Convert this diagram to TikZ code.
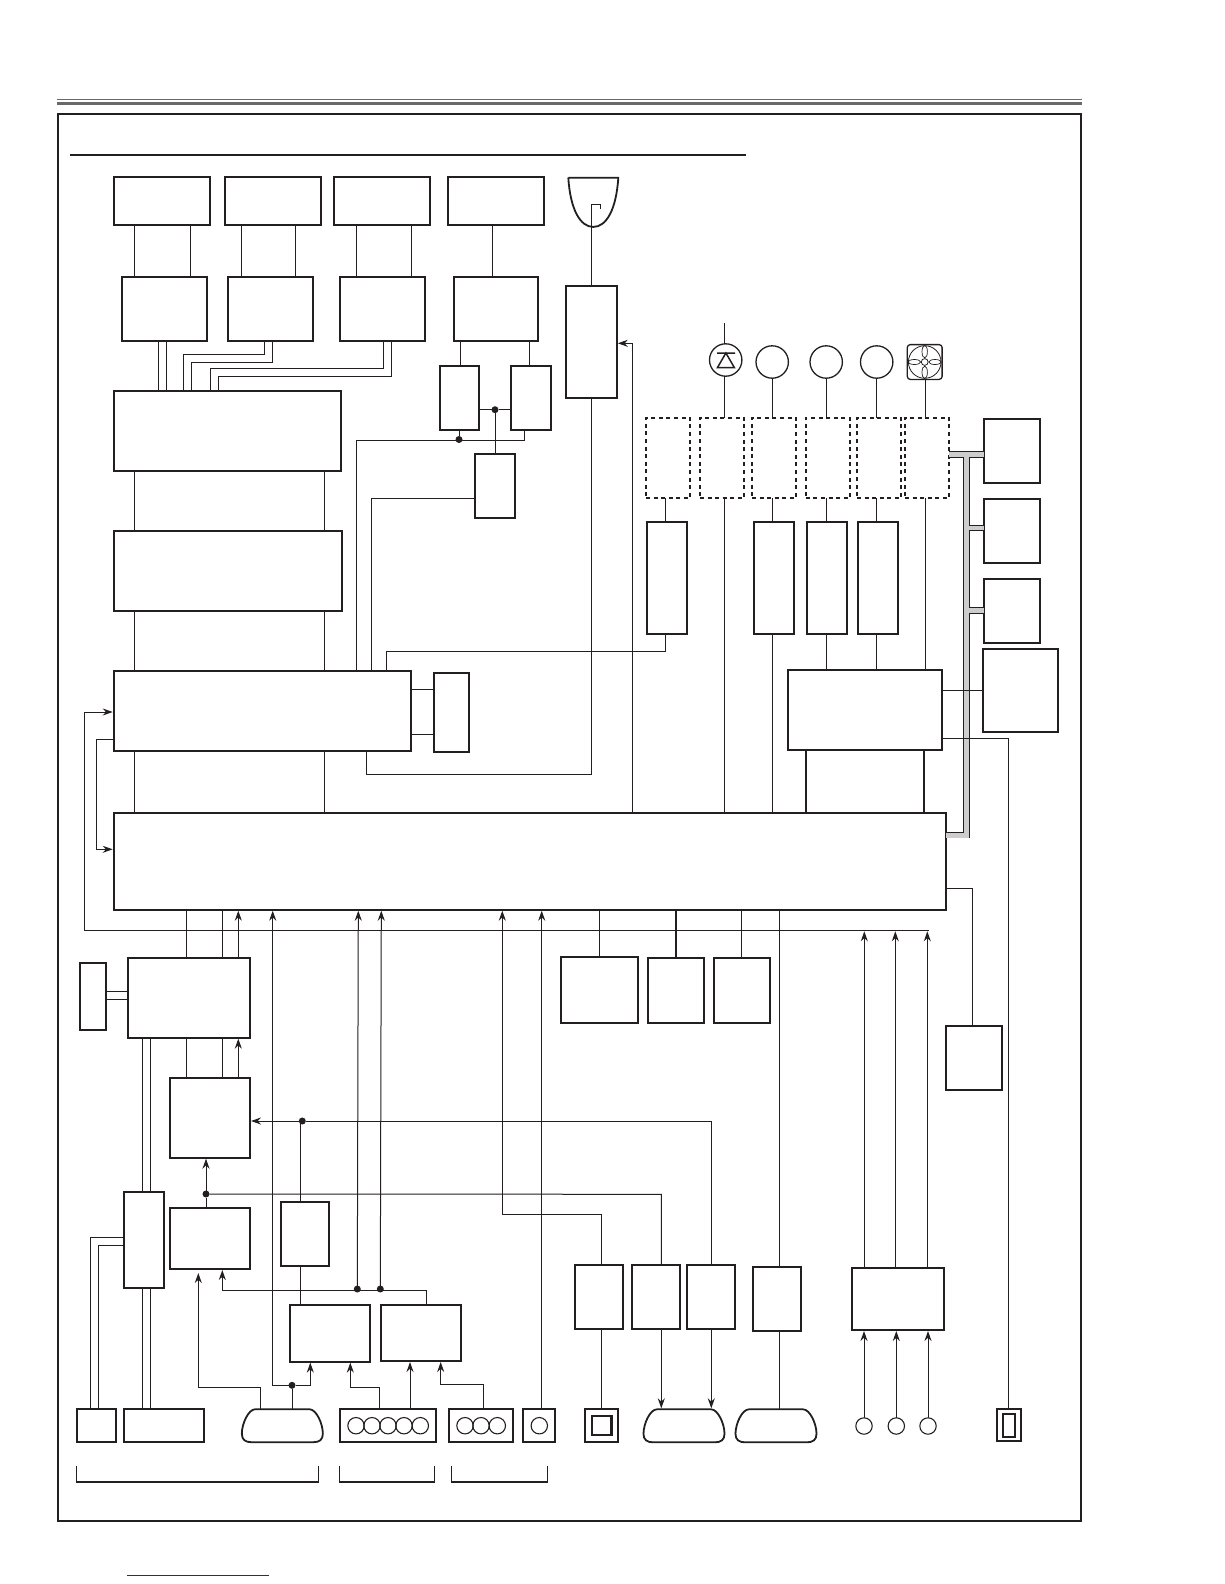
\documentclass[tikz,border=0pt]{standalone}
\usepackage{tikz}
\usetikzlibrary{shapes,arrows,arrows.meta,positioning}
\definecolor{ink}{RGB}{35, 31, 32}
\definecolor{rule}{RGB}{105, 105, 105}
\definecolor{buscol}{RGB}{205, 205, 205}
\definecolor{linkcol}{RGB}{28, 40, 150}
\tikzstyle{blk} = [rectangle, draw=ink, line width=2pt, outer sep=0pt, inner sep=0pt]
\tikzstyle{dashblk} = [blk, dash pattern=on 4pt off 3.6pt, minimum width=44.3pt, minimum height=80.2pt]
\tikzstyle{tallblk} = [blk, minimum width=40.6pt, minimum height=112.2pt]
\tikzstyle{lowblk} = [blk, minimum width=48.6pt, minimum height=64.6pt]
\tikzstyle{hole} = [rectangle, draw=none, outer sep=0pt, inner sep=0pt]
\tikzstyle{jack} = [circle, draw=ink, line width=1.1pt, outer sep=0pt, inner sep=0pt, minimum size=16.4pt]
\tikzstyle{lampc} = [circle, draw=ink, line width=1.3pt, outer sep=0pt, inner sep=0pt, minimum size=32.4pt]
\tikzstyle{dot} = [circle, fill=ink, outer sep=0pt, inner sep=0pt, minimum size=7pt]
\tikzstyle{wire} = [draw=ink, line width=1pt]
\tikzstyle{fatwire} = [draw=ink, line width=2pt]
\tikzstyle{tedge} = [draw=ink, line width=1pt, -{Stealth[length=10pt,width=7pt]}, shorten >=1pt]
\tikzstyle{bus} = [draw=ink, line width=0.8pt, double=buscol, double distance=4.8pt]
\tikzstyle{shell} = [draw=ink, line width=1.8pt, line join=round]
\newcommand{\dsub}[2]{%
  \node[hole, minimum width=81pt, minimum height=33pt] (#1) at #2 {};
  \draw[shell, shift={#2}] (-27,-16.5) -- (27,-16.5) .. controls (34,-16.5) and (40.5,-2) .. (40.5,8)
    .. controls (40.5,14) and (37,16.5) .. (31,16.5) -- (-31,16.5)
    .. controls (-37,16.5) and (-40.5,14) .. (-40.5,8) .. controls (-40.5,-2) and (-34,-16.5) .. (-27,-16.5) -- cycle;
}
\begin{document}
\begin{tikzpicture}[x=1pt, y=-1pt]
\useasboundingbox (0,0) rectangle (1224,1584);

% page furniture =============================
\draw[rule, line width=1pt] (56.5,99.7) -- (1082,99.7);
\draw[rule, line width=3pt] (56.5,103.3) -- (1082,103.3);
\node[blk, minimum width=1022.5pt, minimum height=1406.5pt] (sheet) at (569.25,817.25) {};
\draw[ink, line width=2pt] (70,155) -- (746,155);
\draw[linkcol, line width=1pt] (127,1575) -- (268.7,1575);

% optics =============================

% nodes
\node[blk, minimum width=96.3pt, minimum height=48pt] (m1) at (162.1,201) {};
\node[blk, minimum width=96.3pt, minimum height=48pt, right=14.6pt of m1] (m2) {};
\node[blk, minimum width=96.3pt, minimum height=48pt, right=12.8pt of m2] (m3) {};
\node[blk, minimum width=96.3pt, minimum height=48pt, right=17.7pt of m3] (m4) {};
\node[hole, minimum width=50pt, minimum height=49.3pt] (bowl) at (593.3,202.3) {};
\coordinate (lensline) at (591.6,227);
\draw[shell] (bowl.north west) -- (bowl.north east) .. controls +(-2,32) and +(13,0) .. (bowl.south)
  .. controls +(-13,0) and +(2,32) .. (bowl.north west);

\node[blk, minimum width=84.5pt, minimum height=64.3pt] (d1) at (164.25,308.8) {};
\node[blk, minimum width=84.5pt, minimum height=64.3pt, right=21.5pt of d1] (d2) {};
\node[blk, minimum width=85pt, minimum height=64.3pt, right=27.2pt of d2] (d3) {};
\node[blk, minimum width=84.5pt, minimum height=64.3pt, right=29pt of d3] (d4) {};
\node[blk, minimum width=50.9pt, minimum height=112.3pt] (tall) at (591.35,341.85) {};

\node[blk, minimum width=39.4pt, minimum height=64.6pt] (s1) at (459.7,398) {};
\node[blk, minimum width=40.5pt, minimum height=64.6pt, right=31.4pt of s1] (s2) {};
\node[blk, minimum width=40.6pt, minimum height=64.3pt] (s3) at (495.1,485.85) {};
\node[dot] (j1) at (495,409.7) {};
\node[dot] (j2) at (459,439.5) {};

\node[blk, minimum width=227.3pt, minimum height=79.7pt] (P1) at (227.5,430.9) {};
\node[blk, minimum width=228.2pt, minimum height=79.7pt, below=60.3pt of P1, xshift=0.4pt] (P2) {};
\node[blk, minimum width=297.6pt, minimum height=79.7pt] (P3) at (262.5,710.9) {};
\node[blk, minimum width=35pt, minimum height=79pt] (bx) at (451.5,712.5) {};
\node[blk, minimum width=832.3pt, minimum height=96.7pt] (main) at (529.85,861.35) {};

% lamp and fan =============================
\coordinate (lampin) at (724.3,323);
\node[lampc] (lamp) at (725.7,360) {};
\draw[ink, line width=1.5pt] (717,353) -- (735,353) (725.9,353) -- (717.5,367.5) -- (734.3,367.5) -- cycle;
\node[lampc] (c1) at (772.2,362) {};
\node[lampc] (c2) at (826.2,362) {};
\node[lampc] (c3) at (876.7,362) {};
\node[rectangle, rounded corners=3pt, draw=ink, line width=1.3pt, outer sep=0pt, inner sep=0pt, minimum size=34.8pt] (fan) at (924.7,362) {};
\draw[ink, line width=0.8pt] (fan) circle (16.3) (fan) circle (3.4);
\draw[ink, line width=0.7pt] (924.7,351.7) ellipse (2.7 and 6.2) (924.7,372.3) ellipse (2.7 and 6.2)
  (914.4,362) ellipse (6.2 and 2.5) (935,362) ellipse (6.2 and 2.5);

\node[dashblk] (dA) at (668.15,457.9) {};
\node[dashblk] (dB) at (722.15,457.9) {};
\node[dashblk] (dC) at (774.15,457.9) {};
\node[dashblk] (dD) at (827.85,457.9) {};
\node[dashblk] (dE) at (879.15,457.9) {};
\node[dashblk] (dF) at (927.15,457.9) {};

\node[tallblk] (tA) at (667,577.9) {};
\node[tallblk, minimum width=39.6pt] (tC) at (773.8,577.9) {};
\node[tallblk] (tD) at (827,577.9) {};
\node[tallblk] (tE) at (878,577.9) {};
\node[blk, minimum width=154.6pt, minimum height=80.5pt] (Q) at (865,709.75) {};

\node[blk, minimum width=56.6pt, minimum height=64.1pt] (r1) at (1012,450.85) {};
\node[blk, minimum width=56.6pt, minimum height=64.1pt] (r2) at (1012,530.85) {};
\node[blk, minimum width=56.6pt, minimum height=64.1pt] (r3) at (1012,610.8) {};
\node[blk, minimum width=75.3pt, minimum height=83pt] (r4) at (1020.35,690.3) {};

% lower half =============================
\node[blk, minimum width=122pt, minimum height=80pt] (C1) at (189,997.7) {};
\node[blk, minimum width=26pt, minimum height=67.3pt] (side) at (92.8,996.35) {};
\node[blk, minimum width=80.3pt, minimum height=80pt] (C2) at (209.85,1117.7) {};
\node[blk, minimum width=80.3pt, minimum height=61.3pt] (C3) at (209.85,1238.35) {};
\node[blk, minimum width=40.6pt, minimum height=96.3pt] (K) at (144,1239.85) {};
\node[blk, minimum width=48.6pt, minimum height=64.3pt] (J) at (305,1233.85) {};
\node[blk, minimum width=80.3pt, minimum height=56.3pt] (L) at (330.15,1333.5) {};
\node[blk, minimum width=80.6pt, minimum height=56.3pt] (M) at (421,1332.85) {};

\node[blk, minimum width=76.8pt, minimum height=65.6pt] (F1) at (599.6,990.2) {};
\node[blk, minimum width=56.6pt, minimum height=65pt] (F2) at (676,990) {};
\node[blk, minimum width=56.6pt, minimum height=65pt] (F3) at (742,990) {};
\node[blk, minimum width=55.5pt, minimum height=63.7pt] (H) at (974,1057.85) {};

\node[lowblk] (E1) at (599,1297) {};
\node[lowblk] (E2) at (656,1297) {};
\node[lowblk] (E3) at (711,1297) {};
\node[lowblk] (E4) at (777,1299) {};
\node[blk, minimum width=92.6pt, minimum height=62pt] (E5) at (898,1299) {};

\node[dot] (j3) at (302.3,1121) {};
\node[dot] (j4) at (206,1194) {};
\node[dot] (j5) at (357.3,1289) {};
\node[dot] (j6) at (380.3,1289) {};
\node[dot] (j7) at (292,1385.3) {};
\coordinate (rtn) at (929,930.3);

% bottom row
\node[blk, minimum width=38.7pt, minimum height=33pt] (B1) at (96.35,1425.5) {};
\node[blk, minimum width=80.6pt, minimum height=33pt] (B2) at (163.9,1425.5) {};
\dsub{vga1}{(282.35,1425.7)}
\node[blk, minimum width=96.6pt, minimum height=33pt] (B3) at (388,1425.5) {};
\node[jack] (p1) at (356,1425.7) {};
\node[jack] (p2) at (372,1425.7) {};
\node[jack] (p3) at (388,1425.7) {};
\node[jack] (p4) at (404,1425.7) {};
\node[jack] (p5) at (420.3,1425.7) {};
\node[blk, minimum width=64.6pt, minimum height=33pt] (B4) at (481,1425.5) {};
\node[jack] (q1) at (465,1425.7) {};
\node[jack] (q2) at (481,1425.7) {};
\node[jack] (q3) at (497.3,1425.7) {};
\node[blk, minimum width=32.6pt, minimum height=33pt] (B5) at (539,1425.5) {};
\node[jack] (q4) at (539.3,1425.7) {};
\node[blk, minimum width=33pt, minimum height=33pt] (B6) at (601.2,1425.5) {};
\node[blk, line width=2.4pt, minimum width=19.6pt, minimum height=19.3pt] (B6i) at (601.5,1425.4) {};
\dsub{vga2}{(684,1425.8)}
\dsub{vga3}{(776,1425.8)}
\node[jack] (k1) at (864,1426) {};
\node[jack] (k2) at (896.3,1426) {};
\node[jack] (k3) at (928,1426) {};
\node[blk, minimum width=24.4pt, minimum height=32pt] (B7) at (1009,1425.3) {};
\node[blk, minimum width=12.6pt, minimum height=22.4pt] (B7i) at (1009,1425.5) {};

% edges =============================
\path[wire] (m1.south -| 134.6,0) -- (d1.north -| 134.6,0);
\path[wire] (m1.south -| 190,0) -- (d1.north -| 190,0);
\path[wire] (m2.south -| 241.4,0) -- (d2.north -| 241.4,0);
\path[wire] (m2.south -| 295.3,0) -- (d2.north -| 295.3,0);
\path[wire] (m3.south -| 356.5,0) -- (d3.north -| 356.5,0);
\path[wire] (m3.south -| 411.3,0) -- (d3.north -| 411.3,0);
\path[wire] (m4.south -| 492.8,0) -- (d4.north -| 492.8,0);
\path[wire] (lensline) -- (tall.north -| lensline);
\path[wire] (lensline) |- (600,204.3) -- (600,208.7);

\path[wire] (d1.south -| 158.7,0) -- (P1.north -| 158.7,0);
\path[wire] (d1.south -| 166.3,0) -- (P1.north -| 166.3,0);
\path[wire] (d2.south -| 264.7,0) |- (183.6,354.3) -- (P1.north -| 183.6,0);
\path[wire] (d2.south -| 272.3,0) |- (191.2,362.3) -- (P1.north -| 191.2,0);
\path[wire] (d3.south -| 383.3,0) |- (210.3,368.3) -- (P1.north -| 210.3,0);
\path[wire] (d3.south -| 391.4,0) |- (218.4,376.3) -- (P1.north -| 218.4,0);

\path[wire] (d4.south -| 460.6,0) -- (s1.north -| 460.6,0);
\path[wire] (d4.south -| 529.5,0) -- (s2.north -| 529.5,0);
\path[wire] (s1.east |- j1) -- (j1) -- (s2.west |- j1);
\path[wire] (j1) -- (s3.north -| j1);
\path[wire] (s1.south -| j2) -- (j2);
\path[wire] (s2.south -| 524.5,0) |- (356.5,440.5) -- (P3.north -| 356.5,0);
\path[wire] (s3.west |- 0,498) -- (371.7,498) -- (P3.north -| 371.7,0);

\path[wire] (P1.south -| 134.6,0) -- (P2.north -| 134.6,0);
\path[wire] (P1.south -| 324.4,0) -- (P2.north -| 324.4,0);
\path[wire] (P2.south -| 134.6,0) -- (P3.north -| 134.6,0);
\path[wire] (P2.south -| 324.4,0) -- (P3.north -| 324.4,0);
\path[wire] (P3.south -| 134.6,0) -- (main.north -| 134.6,0);
\path[wire] (P3.south -| 324.4,0) -- (main.north -| 324.4,0);
\path[wire] (P3.east |- 0,689.3) -- (bx.west |- 0,689.3);
\path[wire] (P3.east |- 0,734.3) -- (bx.west |- 0,734.3);
\path[wire] (tall.south -| lensline) |- (366.3,774.3) -- (P3.south -| 366.3,0);
\path[wire] (tA.south -| 665.3,0) |- (386.3,651.3) -- (P3.north -| 386.3,0);
\path[tedge] (main.north -| 632.5,0) |- (tall.east |- 0,343.3);
\path[tedge] (rtn) -- (84.3,930.3) |- (P3.west |- 0,712);
\path[tedge] (P3.west |- 0,739.3) -- (96.3,739.3) |- (main.west |- 0,849.3);

\path[wire] (lampin) -- (lamp.north -| lampin);
\path[wire] (lamp.south -| lampin) -- (dB.north -| lampin);
\path[wire] (c1.south -| 772.7,0) -- (dC.north -| 772.7,0);
\path[wire] (c2.south -| 826.3,0) -- (dD.north -| 826.3,0);
\path[wire] (c3.south -| 876.7,0) -- (dE.north -| 876.7,0);
\path[wire] (fan.south -| 925.3,0) -- (dF.north -| 925.3,0);
\path[wire] (dA.south -| 665.3,0) -- (tA.north -| 665.3,0);
\path[wire] (dC.south -| 772.7,0) -- (tC.north -| 772.7,0);
\path[wire] (dD.south -| 826.3,0) -- (tD.north -| 826.3,0);
\path[wire] (dE.south -| 876.7,0) -- (tE.north -| 876.7,0);
\path[wire] (dB.south -| lampin) -- (main.north -| lampin);
\path[wire] (tC.south -| 772.7,0) -- (main.north -| 772.7,0);
\path[wire] (tD.south -| 826.3,0) -- (Q.north -| 826.3,0);
\path[wire] (tE.south -| 876.7,0) -- (Q.north -| 876.7,0);
\path[wire] (dF.south -| 925.3,0) -- (Q.north -| 925.3,0);
\path[fatwire] (Q.south -| 806,0) -- (main.north -| 806,0);
\path[fatwire] (Q.south -| 924,0) -- (main.north -| 924,0);

\path[bus] (dF.east |- 0,454.3) -- (r1.west |- 0,454.3)
  (966.5,454.3) -- (966.5,835.2) -- (main.east |- 0,835.2)
  (966.5,528) -- (r2.west |- 0,528)
  (966.5,610.5) -- (r3.west |- 0,610.5);
\path[wire] (Q.east |- 0,690.2) -- (r4.west |- 0,690.2);
\path[wire] (Q.east |- 0,738.7) -- (1008.7,738.7) -- (B7.north -| 1008.7,0);

\path[wire] (main.south -| 186.7,0) -- (C1.north -| 186.7,0);
\path[wire] (main.south -| 222.7,0) -- (C1.north -| 222.7,0);
\path[tedge] (C1.north -| 238.3,0) -- (main.south -| 238.3,0);
\path[wire] (C1.south -| 186.7,0) -- (C2.north -| 186.7,0);
\path[wire] (C1.south -| 222.7,0) -- (C2.north -| 222.7,0);
\path[tedge] (C2.north -| 238.3,0) -- (C1.south -| 238.3,0);
\path[wire] (side.east |- 0,991.3) -- (C1.west |- 0,991.3);
\path[wire] (side.east |- 0,999.3) -- (C1.west |- 0,999.3);
\path[wire] (C1.south -| 142.7,0) -- (K.north -| 142.7,0);
\path[wire] (C1.south -| 150.3,0) -- (K.north -| 150.3,0);
\path[wire] (K.south -| 142.7,0) -- (B2.north -| 142.7,0);
\path[wire] (K.south -| 150.3,0) -- (B2.north -| 150.3,0);
\path[wire] (K.west |- 0,1237.3) -- (90.3,1237.3) -- (B1.north -| 90.3,0);
\path[wire] (K.west |- 0,1245.3) -- (98.3,1245.3) -- (B1.north -| 98.3,0);

\path[wire] (C3.north -| j4) -- (j4);
\path[tedge] (j4) -- (C2.south -| j4);
\path[wire] (j4) -- (661.3,1194.3) -- (E2.north -| 661.3,0);
\path[wire] (E3.north -| 711.3,0) |- (j3);
\path[tedge] (j3) -- (C2.east |- j3);
\path[wire] (J.north -| 300.7,0) -- (300.7,1121);
\path[wire] (J.south -| 300.7,0) -- (L.north -| 300.7,0);
\path[tedge] (B3.north -| 379.7,0) |- (350.3,1387.3) -- (L.south -| 350.3,0);
\path[tedge] (B3.north -| 410,0) -- (M.south -| 410,0);
\path[tedge] (B4.north -| 483.7,0) |- (440.7,1384.3) -- (M.south -| 440.7,0);
\path[tedge] (M.north -| 426.7,0) |- (222.3,1290.3) -- (C3.south -| 222.3,0);
\path[tedge] (j5 |- 0,1290) -- (main.south -| 358.3,0);
\path[tedge] (j6 |- 0,1290) -- (main.south -| 381.3,0);
\path[tedge] (vga1.north -| 260.7,0) |- (198.3,1387.3) -- (198.3,1272);
\path[wire] (vga1.north -| j7) -- (j7);
\path[tedge] (j7) -| (L.south -| 310.3,0);
\path[tedge] (j7) -- (272.7,1385.3) -- (main.south -| 272.7,0);

\path[wire] (main.south -| 599.5,0) -- (F1.north -| 599.5,0);
\path[fatwire] (main.south -| 675.6,0) -- (F2.north -| 675.6,0);
\path[wire] (main.south -| 741.3,0) -- (F3.north -| 741.3,0);
\path[wire] (main.east |- 0,888.7) -- (972.5,888.7) -- (H.north -| 972.5,0);

\path[tedge] (E1.north -| 601.3,0) |- (502.3,1214.3) -- (main.south -| 502.3,0);
\path[wire] (E1.south -| 601.3,0) -- (B6.north -| 601.3,0);
\path[tedge] (E2.south -| 661.3,0) -- (vga2.north -| 661.3,0);
\path[tedge] (E3.south -| 711.3,0) -- (vga2.north -| 711.3,0);
\path[wire] (main.south -| 779.3,0) -- (E4.north -| 779.3,0);
\path[wire] (E4.south -| 779.3,0) -- (vga3.north -| 779.3,0);
\path[tedge] (B5.north -| 541.7,0) -- (main.south -| 541.7,0);
\path[tedge] (E5.north -| 864.3,0) -- (rtn -| 864.3,0);
\path[tedge] (E5.north -| 895.3,0) -- (rtn -| 895.3,0);
\path[tedge] (E5.north -| 927.3,0) -- (rtn -| 927.3,0);
\path[tedge] (k1) -- (E5.south -| k1);
\path[tedge] (k2) -- (E5.south -| k2);
\path[tedge] (k3) -- (E5.south -| k3);

% brackets
\draw[ink, line width=1.4pt] (76.3,1466) |- (318.3,1482) -- (318.3,1466);
\draw[ink, line width=1.4pt] (339.7,1466) |- (434.3,1482) -- (434.3,1466);
\draw[ink, line width=1.4pt] (451.7,1466) |- (547.3,1482) -- (547.3,1466);

\end{tikzpicture}
\end{document}
